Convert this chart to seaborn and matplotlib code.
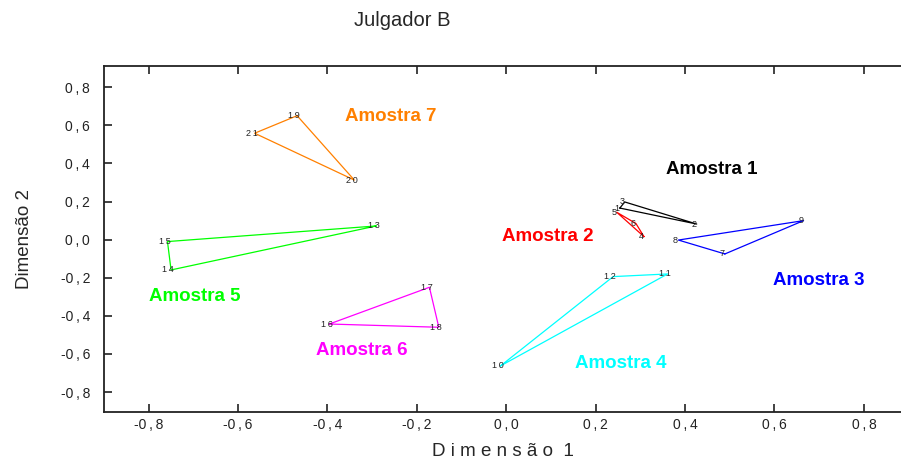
import matplotlib
matplotlib.use("Agg")
import matplotlib.pyplot as plt
import seaborn as sns
import pandas as pd
import numpy as np

sns.set_style("ticks")
plt.rcParams['font.family'] = ['Liberation Sans', 'DejaVu Sans']

# --- data ---
groups = ["Amostra 1", "Amostra 2", "Amostra 3", "Amostra 4", "Amostra 5", "Amostra 6", "Amostra 7"]
colors = ["#000000", "#FF0000", "#0000FF", "#00FFFF", "#00FF00", "#FF00FF", "#FF8000"]

point_ids = {
    "Amostra 1": ["1", "2", "3"],
    "Amostra 2": ["4", "5", "6"],
    "Amostra 3": ["7", "8", "9"],
    "Amostra 4": ["10", "11", "12"],
    "Amostra 5": ["13", "14", "15"],
    "Amostra 6": ["16", "17", "18"],
    "Amostra 7": ["19", "20", "21"],
}
dim1 = {
    "Amostra 1": [0.254, 0.426, 0.265],
    "Amostra 2": [0.308, 0.247, 0.290],
    "Amostra 3": [0.489, 0.385, 0.665],
    "Amostra 4": [-0.013, 0.361, 0.239],
    "Amostra 5": [-0.291, -0.750, -0.758],
    "Amostra 6": [-0.396, -0.172, -0.151],
    "Amostra 7": [-0.468, -0.340, -0.563],
}
dim2 = {
    "Amostra 1": [0.166, 0.082, 0.198],
    "Amostra 2": [0.016, 0.144, 0.085],
    "Amostra 3": [-0.075, -0.002, 0.100],
    "Amostra 4": [-0.663, -0.180, -0.194],
    "Amostra 5": [0.072, -0.159, -0.010],
    "Amostra 6": [-0.443, -0.250, -0.460],
    "Amostra 7": [0.651, 0.313, 0.559],
}
group_label_x = [0.460, 0.093, 0.700, 0.256, -0.696, -0.324, -0.259]
group_label_y = [0.366, 0.019, -0.212, -0.648, -0.301, -0.584, 0.649]

xticks = [-0.8, -0.6, -0.4, -0.2, 0.0, 0.2, 0.4, 0.6, 0.8]
yticks = [-0.8, -0.6, -0.4, -0.2, 0.0, 0.2, 0.4, 0.6, 0.8]

# --- build closed polygons table ---
rows = []
for g in groups:
    xs, ys = dim1[g], dim2[g]
    order = list(range(len(xs))) + [0]
    for k, i in enumerate(order):
        rows.append({"grupo": g, "ordem": k, "Dimensão 1": xs[i], "Dimensão 2": ys[i]})
df = pd.DataFrame(rows)

fig = plt.figure(figsize=(9.01, 4.66), dpi=100)
ax = fig.add_axes([104/901, 1 - 412/466, 1 - 104/901, (412 - 66)/466])

sns.lineplot(data=df, x="Dimensão 1", y="Dimensão 2", hue="grupo", units="grupo",
             estimator=None, sort=False, palette=dict(zip(groups, colors)),
             linewidth=0.9, legend=False, ax=ax)

sp = "\u2009"
for g in groups:
    for pid, x, y in zip(point_ids[g], dim1[g], dim2[g]):
        ax.annotate(sp.join(pid), (x, y), xytext=(-2, 0), textcoords="offset points",
                    ha="center", va="center", fontsize=6.5, color="#222222")

for g, c, x, y in zip(groups, colors, group_label_x, group_label_y):
    ax.text(x, y, g, color=c, fontsize=13.5, fontweight="bold", ha="center", va="center")

ax.set_xlim(-0.9, 0.883)
ax.set_ylim(-0.905, 0.912)
ax.set_xticks(xticks)
ax.set_yticks(yticks)
def fmt(v):
    s = f"{v:.1f}".replace(".", ",")
    sign = "-" if s.startswith("-") else ""
    body = s.lstrip("-")
    return sign + sp.join(list(body))
ax.set_xticklabels([fmt(v) for v in xticks])
ax.set_yticklabels([fmt(v) for v in yticks])
ax.tick_params(axis="both", direction="in", length=6, width=1.2, labelsize=10,
               colors="#222222")
ax.tick_params(axis="x", top=True, pad=4)
ax.tick_params(axis="y", pad=10)
ax.spines["right"].set_visible(False)
for s in ["left", "top", "bottom"]:
    ax.spines[s].set_linewidth(1.3)
    ax.spines[s].set_color("#222222")

ax.set_xlabel(" ".join(list("Dimensão")) + "  1", fontsize=13.5, labelpad=8)
ax.set_ylabel("Dimensão 2", fontsize=13.5, labelpad=20)

fig.text(402/901, 1 - 21/466, "Julgador B", ha="center", va="center", fontsize=14.5)

fig.savefig("out.png", dpi=100)
